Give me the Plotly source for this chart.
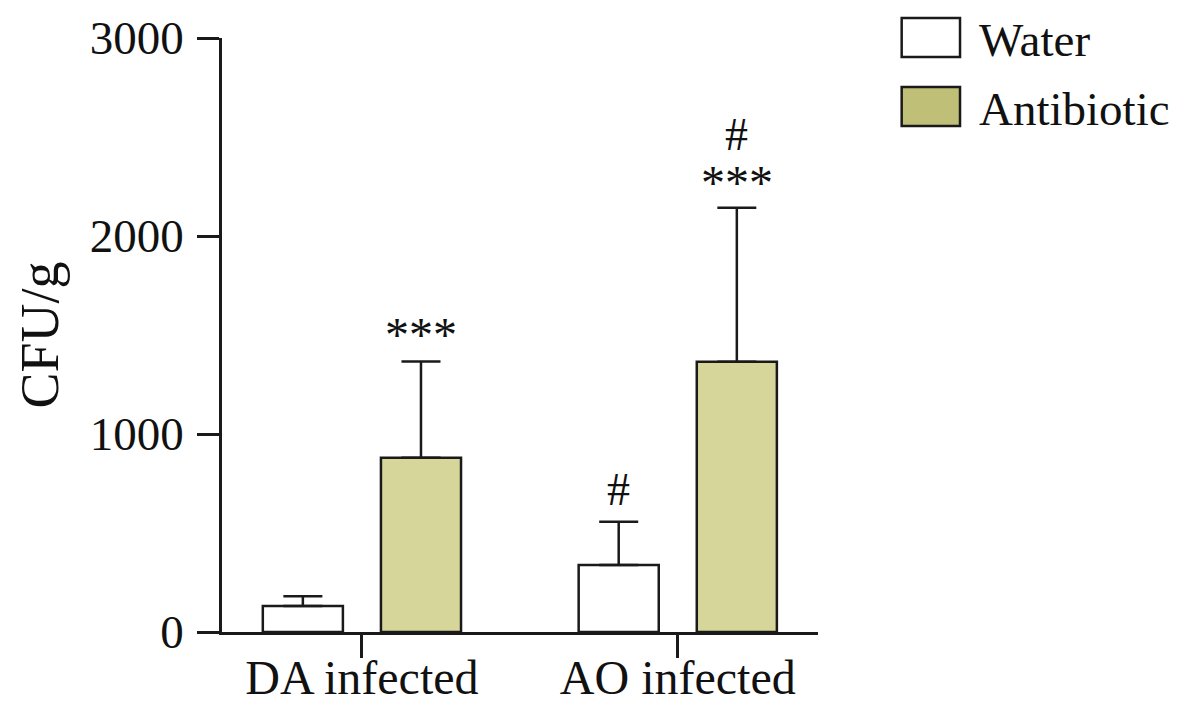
import plotly.graph_objects as go

categories = ["DA infected", "AO infected"]
water_mean = [131, 338]
water_err = [50, 219]
anti_mean = [880, 1365]
anti_err = [486, 778]
y_ticks = [0, 1000, 2000, 3000]
# significance marks: (category index, series, text, value)
marks = [
    (0, "Antibiotic", "***", 1505),
    (1, "Water", "#", 722),
    (1, "Antibiotic", "***", 2270),
    (1, "Antibiotic", "#", 2515),
]

FONT = "Liberation Serif, Times New Roman, serif"
LINE = "#1a1a1a"
TXT = "#111"
ANTI_FILL = "#d6d69b"
ANTI_LEGEND = "#bfbf78"
BARGAP = 0.252

fig = go.Figure()
fig.add_trace(go.Bar(
    name="Water", x=categories, y=water_mean,
    marker=dict(color="white", line=dict(color=LINE, width=2.5)),
    error_y=dict(type="data", array=water_err, arrayminus=[0, 0], symmetric=False,
                 color=LINE, thickness=2.5, width=19.5),
    showlegend=False,
))
fig.add_trace(go.Bar(
    name="Antibiotic", x=categories, y=anti_mean,
    marker=dict(color=ANTI_FILL, line=dict(color=LINE, width=2.5)),
    error_y=dict(type="data", array=anti_err, arrayminus=[0, 0], symmetric=False,
                 color=LINE, thickness=2.5, width=19.5),
    showlegend=False,
))

offset = (1 - BARGAP) / 4
for ci, series, txt, val in marks:
    xpos = ci + (-offset if series == "Water" else offset)
    fig.add_annotation(x=xpos, y=val, xref="x", yref="y", text=txt, showarrow=False,
                       font=dict(family=FONT, size=46 if txt == "#" else 48, color=TXT),
                       xanchor="center", yanchor="middle")

# manual legend (large swatches as in the reference)
legend_items = [("Water", "white", 1.0336, 0.968), ("Antibiotic", ANTI_LEGEND, 0.9176, 0.852)]
for name, fill, y1, y0 in legend_items:
    fig.add_shape(type="rect", xref="paper", yref="paper", x0=1.1404, x1=1.2383,
                  y0=y0, y1=y1, fillcolor=fill, line=dict(color=LINE, width=2.5))
    fig.add_annotation(x=1.2663, y=(y0 + y1) / 2 - 0.004, xref="paper", yref="paper", text=name,
                       showarrow=False, xanchor="left", yanchor="middle",
                       font=dict(family=FONT, size=47, color=TXT))

fig.update_layout(
    width=1192, height=711,
    margin=dict(l=222, r=374, t=38, b=79),
    paper_bgcolor="white", plot_bgcolor="white",
    barmode="group", bargap=BARGAP, bargroupgap=0.322,
    font=dict(family=FONT, size=44, color=TXT),
)
fig.update_xaxes(
    range=[-0.443, 1.444], showline=True, linecolor=LINE, linewidth=2.5,
    ticks="outside", ticklen=23, tickwidth=2.5, tickcolor=LINE,
    showgrid=False, zeroline=False, tickfont=dict(family=FONT, size=48, color=TXT),
    automargin=False, ticklabelstandoff=-21,
)
fig.update_yaxes(
    range=[0, 3000], tickvals=y_ticks, showline=True, linecolor=LINE, linewidth=2.5,
    ticks="outside", ticklen=22, tickwidth=2.5, tickcolor=LINE,
    showgrid=False, zeroline=False, tickfont=dict(family=FONT, size=47, color=TXT),
    title=dict(text="CFU/g", font=dict(family=FONT, size=54, color=TXT), standoff=14),
    ticklabelstandoff=4, automargin=False,
)

fig.write_html("out.html", config={"displayModeBar": False},
               post_script="document.body.style.margin='0';")
